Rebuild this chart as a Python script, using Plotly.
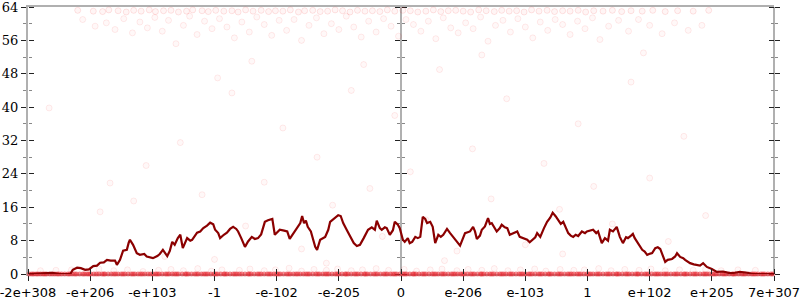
import plotly.graph_objects as go

# ---- axis labels ----
x_tick_vals = [-6, -5, -4, -3, -2, -1, 0, 1, 2, 3, 4, 5, 6]
x_tick_text = ["-2e+308", "-e+206", "-e+103", "-1", "-e-102", "-e-205", "0",
               "e-206", "e-103", "1", "e+102", "e+205", "7e+307"]
y_tick_vals = [0, 8, 16, 24, 32, 40, 48, 56, 64]

# ---- smoothed line (dark red) ----
line_x = [-6.0, -5.73, -5.61, -5.49, -5.32, -5.28, -5.21, -5.15, -5.08, -5.02, -4.95, -4.89, -4.84, -4.78,
          -4.73, -4.67, -4.60, -4.57, -4.52, -4.47, -4.41, -4.38, -4.36, -4.31, -4.25, -4.20, -4.13, -4.09,
          -4.04, -3.99, -3.92, -3.88, -3.83, -3.76, -3.72, -3.68, -3.64, -3.59, -3.55, -3.51, -3.44, -3.39,
          -3.36, -3.31, -3.28, -3.23, -3.18, -3.12, -3.07, -3.02, -2.99, -2.94, -2.91, -2.85, -2.80, -2.75,
          -2.70, -2.65, -2.62, -2.57, -2.51, -2.46, -2.40, -2.35, -2.30, -2.25, -2.19, -2.14, -2.07, -2.03,
          -1.98, -1.95, -1.88, -1.83, -1.79, -1.74, -1.71, -1.66, -1.62, -1.59, -1.56, -1.53, -1.50, -1.45,
          -1.38, -1.35, -1.30, -1.22, -1.17, -1.14, -1.08, -1.01, -0.97, -0.93, -0.87, -0.82, -0.76, -0.71,
          -0.66, -0.60, -0.53, -0.47, -0.42, -0.39, -0.34, -0.31, -0.26, -0.23, -0.18, -0.13, -0.10, -0.05,
          -0.02, 0.03, 0.06, 0.11, 0.14, 0.18, 0.23, 0.27, 0.31, 0.35, 0.39, 0.42, 0.47, 0.51, 0.55, 0.60,
          0.64, 0.68, 0.74, 0.79, 0.84, 0.87, 0.95, 1.03, 1.11, 1.16, 1.19, 1.22, 1.27, 1.30, 1.35, 1.40,
          1.43, 1.46, 1.51, 1.54, 1.59, 1.62, 1.67, 1.71, 1.75, 1.82, 1.87, 1.91, 1.98, 2.03, 2.07, 2.11,
          2.16, 2.19, 2.24, 2.30, 2.35, 2.40, 2.44, 2.49, 2.53, 2.57, 2.61, 2.65, 2.69, 2.73, 2.77, 2.81,
          2.85, 2.91, 2.96, 2.99, 3.04, 3.09, 3.14, 3.17, 3.23, 3.28, 3.33, 3.36, 3.41, 3.47, 3.52, 3.57,
          3.62, 3.65, 3.70, 3.73, 3.76, 3.80, 3.84, 3.88, 3.92, 3.96, 4.01, 4.04, 4.09, 4.13, 4.17, 4.21,
          4.25, 4.29, 4.36, 4.41, 4.44, 4.49, 4.54, 4.57, 4.65, 4.71, 4.76, 4.81, 4.86, 4.92, 5.00, 5.08,
          5.18, 5.29, 5.37, 5.45, 5.57, 5.66, 6.0]
line_y = [0, 0.2, 0.3, 0, 0, 1.0, 1.5, 1.4, 1.0, 1.1, 1.9, 2.0, 2.7, 2.8,
          3.4, 3.2, 3.2, 2.2, 3.4, 5.6, 5.8, 7.5, 8.2, 7.0, 5.0, 4.6, 4.8, 4.2,
          4.0, 3.8, 4.3, 4.8, 5.8, 4.3, 5.5, 7.7, 7.0, 8.6, 9.4, 6.2, 8.6, 8.0,
          8.2, 9.2, 9.9, 10.2, 11.0, 11.6, 12.3, 11.9, 10.6, 9.8, 8.6, 9.4, 9.9, 10.8,
          11.3, 10.8, 10.2, 8.6, 6.5, 7.8, 8.9, 8.4, 8.6, 9.5, 12.5, 12.9, 13.2, 9.4,
          10.2, 10.6, 10.4, 10.2, 8.4, 9.6, 10.2, 11.5, 12.2, 13.9, 12.2, 12.8, 11.3, 10.2,
          6.5, 5.8, 8.2, 8.9, 10.6, 12.5, 13.2, 14.1, 13.9, 12.2, 10.5, 8.9, 7.4, 6.7,
          7.0, 8.6, 10.6, 11.2, 10.6, 12.8, 11.0, 10.6, 11.2, 11.0, 9.4, 10.5, 12.5, 11.8,
          11.0, 8.2, 7.7, 8.6, 7.4, 7.7, 8.9, 8.6, 8.9, 13.7, 13.2, 12.2, 12.5, 11.3, 7.4, 9.4,
          8.9, 9.4, 10.8, 9.8, 8.9, 8.2, 6.8, 9.8, 10.2, 11.3, 10.2, 8.4, 9.2, 10.6, 11.4, 13.4,
          12.0, 12.2, 10.8, 10.2, 11.0, 11.8, 11.2, 11.0, 9.4, 9.8, 10.2, 8.9, 8.5, 8.2, 7.6, 8.2,
          8.8, 9.8, 8.9, 11.0, 12.5, 13.5, 14.7, 13.8, 12.9, 12.0, 12.5, 11.0, 9.8, 9.2, 8.9, 9.4,
          9.1, 10.2, 9.8, 10.2, 10.4, 10.6, 9.8, 10.2, 7.4, 8.6, 8.0, 10.6, 10.2, 11.3, 8.9, 7.4,
          8.8, 8.6, 9.2, 9.6, 8.6, 7.7, 6.8, 5.8, 5.4, 4.6, 4.9, 5.0, 6.2, 6.4, 6.0, 4.5,
          2.9, 3.4, 3.6, 4.2, 5.0, 4.1, 3.8, 3.4, 2.6, 2.3, 2.2, 2.0, 2.6, 1.7, 1.2, 0.5,
          0.6, 0.2, 0.3, 0.5, 0.3, 0.0, 0.0]

# ---- raw samples (faint red dots) ----
zero_x = [-5.98, -5.94, -5.91, -5.87, -5.84, -5.8, -5.76, -5.73, -5.7, -5.65, -5.61, -5.57, -5.53, -5.5,
          -5.46, -5.41, -5.36, -5.33, -5.29, -5.25, -5.22, -5.17, -5.12, -5.09, -5.05, -5.02, -4.99,
          -4.94, -4.9, -4.86, -4.81, -4.78, -4.76, -4.71, -4.66, -4.62, -4.59, -4.55, -4.5, -4.47,
          -4.44, -4.39, -4.34, -4.31, -4.28, -4.23, -4.19, -4.16, -4.12, -4.07, -4.03, -3.99, -3.95,
          -3.92, -3.89, -3.84, -3.79, -3.76, -3.73, -3.68, -3.64, -3.61, -3.58, -3.52, -3.47, -3.45,
          -3.42, -3.37, -3.32, -3.29, -3.26, -3.21, -3.17, -3.14, -3.11, -3.06, -3.01, -2.98, -2.95,
          -2.9, -2.85, -2.83, -2.8, -2.75, -2.7, -2.67, -2.64, -2.6, -2.56, -2.51, -2.46, -2.44, -2.41,
          -2.36, -2.31, -2.28, -2.25, -2.2, -2.15, -2.12, -2.09, -2.04, -2.0, -1.97, -1.94, -1.89, -1.84,
          -1.81, -1.78, -1.73, -1.69, -1.66, -1.62, -1.57, -1.53, -1.5, -1.47, -1.42, -1.37, -1.34,
          -1.31, -1.26, -1.22, -1.19, -1.16, -1.11, -1.06, -1.03, -1.0, -0.95, -0.9, -0.88, -0.85, -0.8,
          -0.75, -0.72, -0.69, -0.64, -0.59, -0.57, -0.54, -0.49, -0.44, -0.41, -0.38, -0.33, -0.28,
          -0.25, -0.22, -0.17, -0.13, -0.1, -0.07, -0.02, 0.03, 0.06, 0.09, 0.14, 0.19, 0.21, 0.24,
          0.29, 0.34, 0.37, 0.4, 0.45, 0.5, 0.53, 0.56, 0.6, 0.65, 0.68, 0.71, 0.76, 0.81, 0.84, 0.87,
          0.91, 0.96, 0.99, 1.02, 1.07, 1.12, 1.15, 1.18, 1.23, 1.28, 1.3, 1.33, 1.38, 1.43, 1.46, 1.49,
          1.54, 1.59, 1.62, 1.65, 1.69, 1.74, 1.77, 1.8, 1.85, 1.9, 1.93, 1.96, 2.0, 2.05, 2.08, 2.11,
          2.16, 2.21, 2.24, 2.27, 2.32, 2.37, 2.39, 2.42, 2.47, 2.52, 2.55, 2.58, 2.63, 2.68, 2.71,
          2.74, 2.78, 2.83, 2.86, 2.89, 2.94, 2.99, 3.02, 3.05, 3.09, 3.14, 3.17, 3.2, 3.25, 3.3, 3.33,
          3.36, 3.41, 3.46, 3.48, 3.51, 3.56, 3.61, 3.64, 3.67, 3.72, 3.77, 3.8, 3.82, 3.87, 3.92,
          3.95, 3.98, 4.03, 4.08, 4.11, 4.14, 4.18, 4.23, 4.26, 4.29, 4.34, 4.39, 4.42, 4.45, 4.5,
          4.55, 4.57, 4.6, 4.65, 4.7, 4.73, 4.76, 4.81, 4.86, 4.89, 4.92, 4.96, 5.01, 5.04, 5.07,
          5.12, 5.17, 5.2, 5.23, 5.28, 5.33, 5.35, 5.38, 5.43, 5.48, 5.51, 5.54, 5.59, 5.64, 5.67,
          5.7, 5.74, 5.79, 5.82, 5.85, 5.9, 5.95, 5.98]

low_x = [-5.8, -5.55, -5.3, -5.05, -4.86, -4.62, -4.4, -4.15, -3.9, -3.7, -3.5, -3.27, -3.05, -2.88,
         -2.6, -2.43, -2.2, -2.02, -1.8, -1.6, -1.4, -1.2, -1.02, -0.8, -0.62, -0.4, -0.2, 0.05, 0.25,
         0.47, 0.66, 0.9, 1.08, 1.3, 1.5, 1.72, 1.92, 2.15, 2.33, 2.56, 2.78, 2.95, 3.18, 3.38, 3.6,
         3.83, 4.02, 4.25, 4.48, 4.7, 4.9, 5.15, 5.42, 5.7]
low_y = [0.8, 0.9, 1.0, 0.7, 1.2, 0.8, 1.0, 0.6, 0.9, 1.1, 0.8, 1.3, 0.7, 1.0,
         0.9, 1.2, 0.8, 1.0, 1.4, 0.7, 1.1, 0.9, 1.2, 0.8, 1.0, 1.3, 0.9, 1.1, 0.7,
         1.0, 1.2, 0.8, 1.1, 0.9, 1.3, 0.8, 1.0, 1.2, 0.7, 1.1, 0.9, 1.0, 1.3, 0.8, 1.1,
         0.9, 1.2, 0.8, 1.0, 0.9, 1.1, 0.8, 1.0, 0.9]

top_x = [-5.2, -4.95, -4.8, -4.7, -4.55, -4.42, -4.3, -4.18, -4.05, -3.95, -3.82, -3.7, -3.58, -3.45,
         -3.35, -3.2, -3.1, -2.98, -2.85, -2.72, -2.62, -2.5, -2.38, -2.25, -2.13, -2.02, -1.9, -1.78,
         -1.65, -1.55, -1.42, -1.3, -1.18, -1.06, -0.94, -0.82, -0.7, -0.58, -0.46, -0.34, -0.22, -0.1,
         0.03, 0.15, 0.27, 0.4, 0.52, 0.64, 0.76, 0.88, 1.0, 1.12, 1.25, 1.37, 1.5, 1.62, 1.74, 1.86,
         1.98, 2.1, 2.22, 2.35, 2.47, 2.6, 2.72, 2.85, 2.97, 3.1, 3.25, 3.4, 3.55, 3.7, 3.88, 4.05,
         4.25, 4.45, 4.7, 4.95]
top_y = [63.2, 63.0, 62.9, 63.3, 63.1, 62.8, 63.2, 63.0, 63.3, 62.9, 63.1, 63.2, 62.8, 63.0,
         63.3, 63.1, 62.9, 63.2, 63.0, 63.1, 62.8, 63.3, 63.0, 63.2, 62.9, 63.1, 63.0, 63.3,
         62.8, 63.1, 63.2, 62.9, 63.0, 63.3, 63.1, 62.8, 63.2, 63.0, 63.1, 62.9, 63.3, 63.0,
         63.2, 63.1, 62.8, 63.0, 63.3, 62.9, 63.1, 63.2, 63.0, 62.8, 63.3, 63.1, 62.9, 63.2, 63.0, 63.1,
         62.8, 63.3, 63.0, 63.2, 62.9, 63.1, 63.0, 63.2, 62.8, 63.1, 63.0, 63.2, 62.9, 63.1, 63.0, 63.2,
         62.9, 63.1, 63.0, 63.2]

upper_x = [-5.12, -4.92, -4.74, -4.6, -4.46, -4.32, -4.2, -4.08, -3.96, -3.84, -3.74, -3.62, -3.5, -3.4,
           -3.28, -3.16, -3.04, -2.92, -2.8, -2.68, -2.56, -2.44, -2.32, -2.2, -2.08, -1.96, -1.84, -1.72,
           -1.6, -1.48, -1.36, -1.24, -1.12, -1.0, -0.88, -0.76, -0.64, -0.52, -0.4, -0.28, -0.16, -0.04,
           0.08, 0.2, 0.32, 0.44, 0.56, 0.68, 0.8, 0.92, 1.04, 1.16, 1.28, 1.4, 1.52, 1.64, 1.76, 1.88,
           2.0, 2.12, 2.24, 2.36, 2.48, 2.6, 2.72, 2.84, 2.96, 3.08, 3.2, 3.34, 3.5, 3.66, 3.82, 4.0,
           4.2, 4.4, 4.62, 4.84]
upper_y = [61.0, 59.4, 60.2, 58.6, 61.2, 57.8, 60.4, 59.0, 61.5, 58.2, 60.8, 55.2, 59.6, 61.8,
           57.4, 60.6, 58.8, 61.2, 59.2, 56.6, 60.4, 58.0, 61.6, 59.8, 57.2, 60.8, 58.4, 61.0,
           56.0, 59.6, 61.4, 57.6, 60.0, 58.6, 61.8, 59.2, 56.8, 60.6, 58.0, 61.2, 59.4, 57.0,
           61.0, 59.8, 58.2, 60.6, 56.4, 61.4, 59.0, 57.8, 60.2, 58.8, 61.6, 55.8, 59.6, 60.8, 58.0, 61.2,
           59.2, 56.6, 60.4, 58.4, 61.0, 59.8, 57.4, 60.6, 58.8, 61.4, 56.2, 59.4, 60.8, 58.2, 61.0, 59.6,
           57.6, 60.2, 58.4, 59.6]

mid_x = [-5.66, -4.84, -4.68, -4.3, -4.1, -3.8, -3.55, -3.2, -2.95, -2.72, -2.5, -2.2, -1.9, -1.6,
         -1.35, -1.1, -0.8, -0.5, -0.3, -0.1, 0.15, 0.4, 0.62, 0.9, 1.15, 1.45, 1.7, 2.0, 2.3, 2.55,
         2.85, 3.1, 3.4, 3.7, 4.0, 4.3, 4.55, 4.9, -3.0, -1.2, 0.7, 2.6, -2.4, 1.3, -0.6, 3.9]
mid_y = [39.8, 14.9, 21.8, 17.5, 26.0, 4.2, 31.5, 19.0, 47.0, 43.4, 11.5, 22.0, 35.0, 6.0,
         28.0, 16.5, 44.0, 20.5, 9.0, 38.0, 24.5, 13.0, 49.0, 5.5, 30.0, 18.0, 42.0, 7.0, 26.5, 15.5,
         36.0, 21.0, 12.0, 46.0, 23.0, 7.8, 33.0, 14.0, 3.5, 2.6, 3.2, 4.8, 51.0, 52.5, 50.2, 53.0]

dot_fill = "rgba(255,50,50,0.035)"
dot_edge = "rgba(240,0,0,0.08)"

fig = go.Figure()


def dots(xs, ys, fill=dot_fill, edge=dot_edge, size=6, edge_w=1):
    fig.add_trace(go.Scatter(
        x=xs, y=ys, mode="markers", showlegend=False, cliponaxis=False, hoverinfo="skip",
        marker=dict(size=size, color=fill, line=dict(width=edge_w, color=edge))))


dots(low_x, low_y)
dots(zero_x, [0] * len(zero_x), fill="rgba(232,30,40,0.5)", edge="rgba(232,30,40,0)", size=5, edge_w=0)
dots(top_x, top_y, fill="rgba(255,50,50,0.05)", edge="rgba(240,0,0,0.10)")
dots(upper_x, upper_y)
dots(mid_x, mid_y)

fig.add_trace(go.Scatter(x=line_x, y=line_y, mode="lines", showlegend=False,
                         line=dict(color="#8b0000", width=2.2), hoverinfo="skip"))

# empty helper traces so that all tick-axes render
for ya in ["y2", "y3", "y4", "y5", "y6"]:
    fig.add_trace(go.Scatter(x=[], y=[], yaxis=ya, showlegend=False))
fig.add_trace(go.Scatter(x=[], y=[], xaxis="x2", showlegend=False))

axis_gray = "rgba(150,150,150,0.75)"
major_col = "#222"
minor_col = "#888"
yrange = [0, 64]


def yax(side, position, showline, labels=False):
    d = dict(range=yrange, tickmode="array", tickvals=y_tick_vals, ticks="outside", ticklen=5,
             tickwidth=1, tickcolor=major_col, showgrid=False, zeroline=False,
             showline=showline, linecolor=axis_gray, linewidth=2, side=side,
             minor=dict(tickmode="linear", tick0=0, dtick=4, ticks="outside", ticklen=3,
                        tickcolor=minor_col, tickwidth=1, showgrid=False),
             showticklabels=labels, fixedrange=True, layer="below traces")
    if position is not None:
        d.update(anchor="free", position=position, overlaying="y")
    return d


ylay = yax("left", None, True, labels=True)
ylay.update(tickfont=dict(family="DejaVu Serif", size=13, color="black"), automargin=False,
            ticklabeloverflow="allow")

fig.update_layout(
    width=800, height=300,
    margin=dict(l=28, r=26, t=7, b=26),
    paper_bgcolor="white", plot_bgcolor="white",
    xaxis=dict(range=[-6, 6], tickmode="array", tickvals=x_tick_vals, ticktext=x_tick_text,
               ticks="outside", ticklen=5, tickwidth=1, tickcolor=major_col,
               showline=True, linecolor=axis_gray, linewidth=2, mirror=True,
               showgrid=False, zeroline=False, automargin=False, layer="below traces",
               ticklabeloverflow="allow",
               tickfont=dict(family="DejaVu Sans", size=13, color="black")),
    xaxis2=dict(range=[-6, 6], tickmode="array", tickvals=x_tick_vals, overlaying="x",
                side="top", anchor="free", position=0, ticks="outside", ticklen=5,
                tickwidth=1, tickcolor=major_col, showticklabels=False, showline=False,
                showgrid=False, zeroline=False),
    yaxis=ylay,
    yaxis2=yax("right", 0.0, False),
    yaxis3=yax("left", 0.5, True),
    yaxis4=yax("right", 0.5, False),
    yaxis5=yax("right", 1.0, True),
    yaxis6=yax("left", 1.0, False),
)

fig.write_html("out.html")
